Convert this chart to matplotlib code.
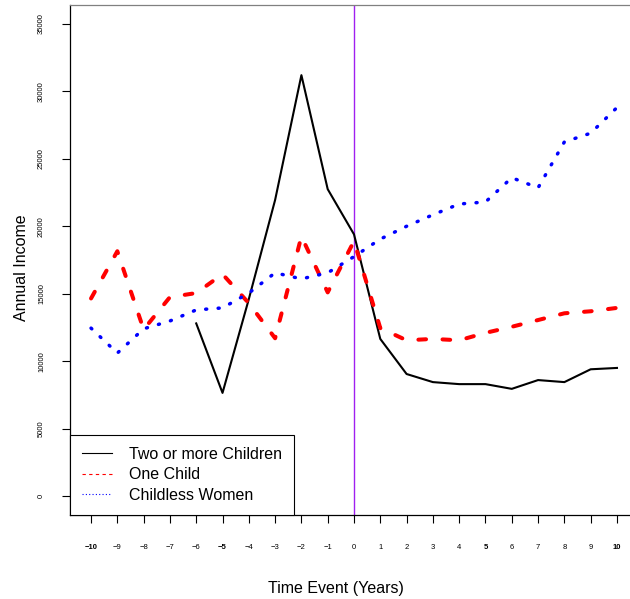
import numpy as np
import matplotlib.pyplot as plt
from matplotlib.lines import Line2D

plt.rcParams['font.family'] = ['Liberation Sans', 'DejaVu Sans']

years = list(range(-10, 11))
two_plus = [np.nan, np.nan, np.nan, np.nan,
            12800, 7650, 14600, 21950, 31200, 22750, 19400,
            11650, 9050, 8450, 8300, 8300, 7950, 8600, 8450, 9400, 9500]
one_child = [14650, 18150, 12350, 14750, 15050, 16450, 14300, 11700, 19250, 15100, 18900,
             12450, 11550, 11650, 11550, 12100, 12550, 13050, 13550, 13700, 13950]
childless = [12450, 10600, 12400, 12980, 13800, 13950, 15050, 16550, 16100, 16550, 17750,
             19050, 20000, 20850, 21650, 21800, 23600, 22850, 26250, 26900, 28800]
labels = ["Two or more Children", "One Child", "Childless Women"]
yticks = list(range(0, 35001, 5000))

fig = plt.figure(figsize=(6.3, 5.99), dpi=100)
ax = fig.add_axes([70/630, 84/599, 568/630, 510/599])

ax.axvline(0, color='#A020F0', lw=1.0, zorder=1)
ax.plot(years, two_plus, color='black', lw=1.5, zorder=3)
ax.plot(years, one_child, color='red', lw=2.9, dashes=(1.9, 4.1),
        dash_capstyle='round', zorder=3)
ax.plot(years, childless, color='blue', lw=2.5, dashes=(0.3, 3.3),
        dash_capstyle='round', zorder=3)

ax.set_xlim(-10.8, 10.8)
ax.set_ylim(-1400, 36400)
ax.set_xticks(years)
ax.set_xticklabels([str(y).replace('-', '\u2212') for y in years])
for t, y in zip(ax.get_xticklabels(), years):
    if y in (-10, -5, 5, 10):
        t.set_fontweight('bold')
ax.set_yticks(yticks)
ax.set_yticklabels([str(v) for v in yticks], rotation=90, va='center')

ax.tick_params(axis='x', length=6, width=0.8, pad=15, labelsize=5.5, colors='black')
ax.tick_params(axis='y', length=6, width=0.8, pad=12, labelsize=5.5, colors='black')

ax.spines['right'].set_visible(False)
ax.spines['top'].set_color('#808080')
for s in ['left', 'bottom', 'top']:
    ax.spines[s].set_linewidth(0.9)

fig.text(336/630, 1 - 588/599, "Time Event (Years)", ha='center', va='center', fontsize=11.5)
fig.text(22/630, 1 - 268/599, "Annual Income", ha='center', va='center',
         rotation=90, fontsize=11.5)

handles = [Line2D([], [], color='black', lw=0.8),
           Line2D([], [], color='red', lw=0.8, linestyle=(0, (3, 3))),
           Line2D([], [], color='blue', lw=0.8, linestyle=(0, (1, 2)))]
leg = ax.legend(handles, labels, loc='lower left', bbox_to_anchor=(0, 0),
                borderaxespad=0, fontsize=11.5, fancybox=False, framealpha=1,
                edgecolor='black', handlelength=1.9, handletextpad=1.05,
                borderpad=0.75, labelspacing=0.36)
leg.get_frame().set_linewidth(0.8)

fig.savefig("out.png", dpi=100)
